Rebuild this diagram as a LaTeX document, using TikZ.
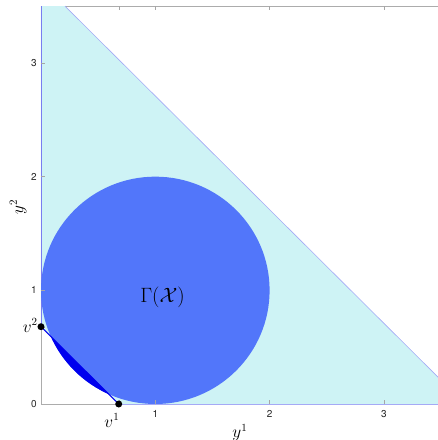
\documentclass[tikz,border=0pt]{standalone}
\usepackage{fontspec}
\setsansfont{TeX Gyre Heros}
\definecolor{cyanfill}{RGB}{206,243,245}
\definecolor{edgeblue}{RGB}{120,125,240}
\definecolor{hypblue}{RGB}{165,170,245}
\definecolor{circblue}{RGB}{82,118,250}
\definecolor{capblue}{RGB}{0,0,238}
\begin{document}
\begin{tikzpicture}[x=114.3pt,y=113.67pt,
  axisline/.style={draw=gray!65,line width=0.5pt},
  tickmark/.style={draw=gray!70,line width=0.4pt},
  ticklab/.style={font=\sffamily\fontsize{10}{11}\selectfont,text=black!85,inner sep=0pt},
  mathlab/.style={font=\fontsize{16}{17}\selectfont,inner sep=0pt},
  vdot/.style={circle,fill=black,inner sep=0pt,minimum size=7pt},
  regionedge/.style={draw=edgeblue,line width=0.6pt}]
\useasboundingbox (-41pt,-36pt) rectangle (397pt,404pt);
% axes box
\draw[axisline] (3.5,0) -- (0,0) -- (0,3.5) -- (3.5,3.5);
% region Y
\fill[cyanfill] (0,0.68) -- (0,3.5) -- (0.21,3.5) -- (3.5,0.21) -- (3.5,0) -- (0.68,0) -- cycle;
\draw[regionedge] (0,0.68) -- (0,3.5);
\draw[regionedge,draw=hypblue] (0.21,3.5) -- (3.5,0.21);
\draw[regionedge,draw=hypblue] (3.5,0) -- (0.68,0);
% Gamma(X)
\fill[circblue] (1,1) circle (1);
\begin{scope}
  \clip (1,1) circle (1);
  \fill[capblue] (0,0.68) -- (0.68,0) -- (-0.1,-0.1) -- cycle;
\end{scope}
\node (gam) at (1.063,0.94) {\fontsize{22}{24}\selectfont$\Gamma(\mathcal{X})$};
% ticks
\foreach \t in {0.68,1,2,3} {
  \draw[tickmark] (\t,0) -- ++(0,4pt);
  \draw[tickmark] (\t,3.5) -- ++(0,-4pt);
}
\foreach \t in {0.68,1,2,3} {
  \draw[tickmark] (0,\t) -- ++(4pt,0);
}
\foreach \t in {1,2,3} {
  \node[ticklab] (xl\t) at (\t,-0.088) {\t};
  \node[ticklab,anchor=east] (yl\t) at (-4pt,\t) {\t};
}
\node[ticklab,anchor=east] (yl0) at (-4pt,0) {0};
% axis labels
\node[mathlab] (ylab1) at (1.74,-0.25) {$y^1$};
\node[mathlab,rotate=90] (ylab2) at (-0.2,1.735) {$y^2$};
% v labels
\node[mathlab] (v1lab) at (0.62,-0.145) {$v^1$};
\node[mathlab] (v2lab) at (-0.095,0.69) {$v^2$};
% v points and segment
\coordinate (p1) at (0.68,0);
\coordinate (p2) at (0,0.68);
\draw[capblue,line width=1pt] (p2) -- (p1);
\node[vdot] (v1) at (p1) {};
\node[vdot] (v2) at (p2) {};
\end{tikzpicture}
\end{document}
